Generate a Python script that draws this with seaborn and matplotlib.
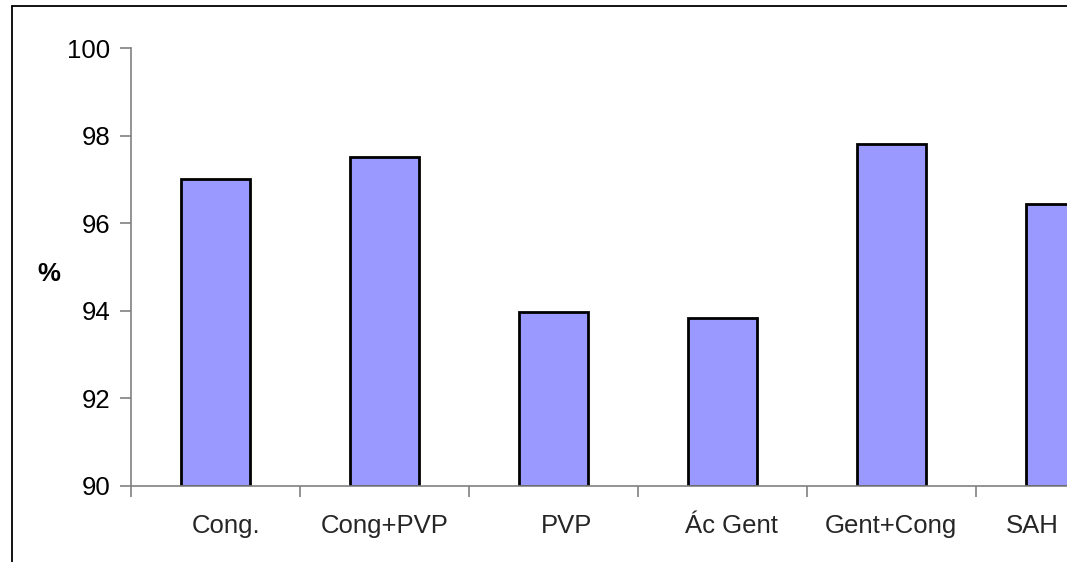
import matplotlib
matplotlib.use("Agg")
import matplotlib.pyplot as plt
import matplotlib.transforms as mtransforms
from matplotlib.lines import Line2D
import seaborn as sns
import pandas as pd

categories = ["Cong.", "Cong+PVP", "PVP", "Ác Gent", "Gent+Cong", "SAH"]
values = [97.0, 97.5, 93.97, 93.84, 97.8, 96.43]
y_ticks = [90, 92, 94, 96, 98, 100]

sns.set_theme(style="white")
plt.rcParams["font.family"] = ["Liberation Sans", "DejaVu Sans"]

df = pd.DataFrame({"cat": categories, "val": values})

W, H = 1067, 562
fig = plt.figure(figsize=(W / 100, H / 100), dpi=100)
fig.patch.set_facecolor("white")

left_px, right_px, top_px, bottom_px = 131, 1145, 48, 486
ax = fig.add_axes([left_px / W, (H - bottom_px) / H,
                   (right_px - left_px) / W, (bottom_px - top_px) / H])
ax.set_facecolor("white")

sns.barplot(data=df, x="cat", y="val", ax=ax, color="#9999FF",
            saturation=1, width=0.414, edgecolor="black", linewidth=2)
# bars start at the 90 baseline of the axis
base = 90
for p in ax.patches:
    h = p.get_height()
    p.set_y(base)
    p.set_height(h - base)

ax.set_ylim(90, 100)
ax.set_xlim(-0.5, len(categories) - 0.5)
ax.set_yticks(y_ticks)
ax.set_yticklabels([str(t) for t in y_ticks], fontsize=18.5)

# major ticks at category boundaries, labels at centers
ax.set_xticks([i - 0.5 for i in range(len(categories) + 1)])
ax.set_xticklabels([""] * (len(categories) + 1))
ax.set_xticks(range(len(categories)), minor=True)
ax.set_xticklabels(categories, minor=True, fontsize=18.5)
ax.tick_params(axis="x", which="minor", bottom=True, length=0, pad=20)
ax.tick_params(axis="x", which="major", bottom=True, length=8, width=1.2,
               color="#808080", direction="out")
ax.tick_params(axis="y", which="major", left=True, length=8, width=1.2,
               color="#808080", direction="out", pad=7)
ax.tick_params(axis="both", labelcolor="black")

offsets_px = [11, 0, 13, 9, -1, -28]
for lab, off in zip(ax.get_xticklabels(minor=True), offsets_px):
    lab.set_transform(lab.get_transform() +
                      mtransforms.ScaledTranslation(off / 100, 0, fig.dpi_scale_trans))

for s in ["top", "right"]:
    ax.spines[s].set_visible(False)
for s in ["left", "bottom"]:
    ax.spines[s].set_color("#808080")
    ax.spines[s].set_linewidth(1.2)

ax.set_xlabel("")
ax.set_ylabel("%", fontsize=18.5, fontweight="bold", rotation=0, labelpad=0,
              va="center", ha="center", color="black")
ax.yaxis.set_label_coords((49 - left_px) / (right_px - left_px),
                          (bottom_px - 274) / (bottom_px - top_px))

# outer frame (chart area border, partly cut off)
fig.add_artist(Line2D([11.5 / W, 11.5 / W], [0, (H - 6) / H], color="black", lw=1.3,
                      transform=fig.transFigure))
fig.add_artist(Line2D([11.5 / W, 1], [(H - 6) / H, (H - 6) / H], color="black", lw=1.3,
                      transform=fig.transFigure))

fig.savefig("out.png", dpi=100)
